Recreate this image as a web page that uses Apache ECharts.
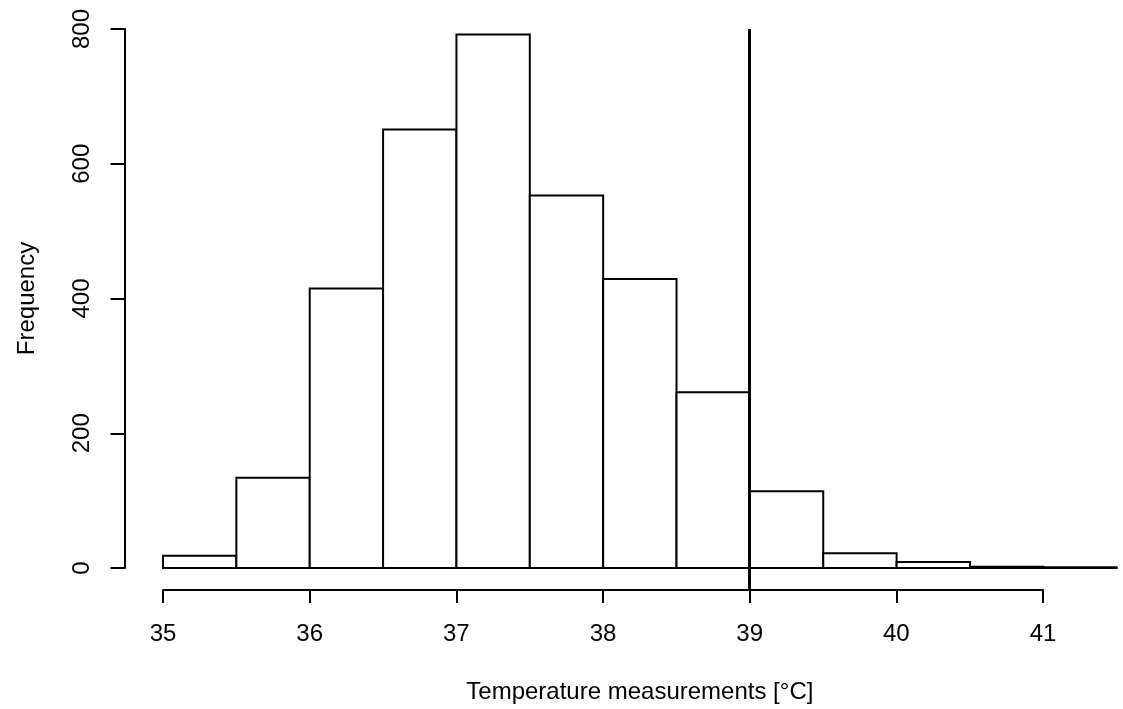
<!DOCTYPE html>
<html>
<head>
<meta charset="utf-8">
<script src="https://cdn.jsdelivr.net/npm/echarts@6/dist/echarts.min.js"></script>
<style>html,body{margin:0;padding:0;background:#fff}#c{width:1123px;height:709px}</style>
</head>
<body>
<div id="c"></div>
<script>
// Histogram bins (°C) and frequencies
const binStarts = [35, 35.5, 36, 36.5, 37, 37.5, 38, 38.5, 39, 39.5, 40, 40.5, 41];
const binEnds   = [35.5, 36, 36.5, 37, 37.5, 38, 38.5, 39, 39.5, 40, 40.5, 41, 41.5];
const frequencies = [18, 134, 415, 651, 792, 553, 429, 261, 114, 22, 9, 2, 1];
const xTicks = [35, 36, 37, 38, 39, 40, 41];
const yTicks = [0, 200, 400, 600, 800];
const threshold = 39;
const xTitle = 'Temperature measurements [°C]';
const yTitle = 'Frequency';

const FONT = '"Liberation Sans", Arial, Helvetica, sans-serif';
const histData = binStarts.map((s, i) => [s, binEnds[i], frequencies[i]]);

const chart = echarts.init(document.getElementById('c'), null, {renderer: 'canvas'});
chart.setOption({
  animation: false,
  backgroundColor: '#ffffff',
  textStyle: {fontFamily: FONT},
  grid: [
    {left: 163, right: 6.3, top: 29, bottom: 141},
    {left: 163, right: 80, top: 29, bottom: 119}
  ],
  xAxis: [
    {
      type: 'value', gridIndex: 0, min: 35, max: 41.5,
      axisLine: {show: false}, axisTick: {show: false}, axisLabel: {show: false}, splitLine: {show: false},
      name: xTitle, nameLocation: 'middle', nameGap: 112,
      nameTextStyle: {fontSize: 24, color: '#000', fontFamily: FONT}
    },
    {
      type: 'value', gridIndex: 1, min: xTicks[0], max: xTicks[xTicks.length - 1], interval: 1,
      axisLine: {show: true, lineStyle: {color: '#000', width: 2}},
      axisTick: {show: true, length: 13, lineStyle: {color: '#000', width: 2}},
      axisLabel: {show: true, margin: 32, fontSize: 24, color: '#000', fontFamily: FONT},
      splitLine: {show: false}
    }
  ],
  yAxis: [
    {
      type: 'value', gridIndex: 0, min: yTicks[0], max: yTicks[yTicks.length - 1], interval: 200,
      offset: 38.5,
      axisLine: {show: true, lineStyle: {color: '#000', width: 2}},
      axisTick: {show: true, length: 14, lineStyle: {color: '#000', width: 2}},
      axisLabel: {show: true, rotate: 90, margin: 30, fontSize: 24, color: '#000', fontFamily: FONT},
      splitLine: {show: false},
      name: yTitle, nameLocation: 'middle', nameGap: 85, nameRotate: 90,
      nameTextStyle: {fontSize: 24, color: '#000', fontFamily: FONT}
    },
    {
      type: 'value', gridIndex: 1, min: 0, max: 1, show: false
    }
  ],
  series: [
    {
      type: 'custom',
      xAxisIndex: 0, yAxisIndex: 0,
      data: histData,
      clip: false,
      renderItem: function (params, api) {
        const p0 = api.coord([api.value(0), api.value(2)]);
        const p1 = api.coord([api.value(1), 0]);
        return {
          type: 'rect',
          shape: {x: p0[0], y: p0[1], width: p1[0] - p0[0], height: p1[1] - p0[1]},
          style: {fill: '#ffffff', stroke: '#000000', lineWidth: 2}
        };
      }
    },
    {
      type: 'line',
      xAxisIndex: 1, yAxisIndex: 1,
      data: [],
      markLine: {
        silent: true,
        symbol: ['none', 'none'],
        label: {show: false},
        lineStyle: {color: '#000', width: 3, type: 'solid'},
        data: [{xAxis: threshold}]
      }
    }
  ]
});
</script>
</body>
</html>
